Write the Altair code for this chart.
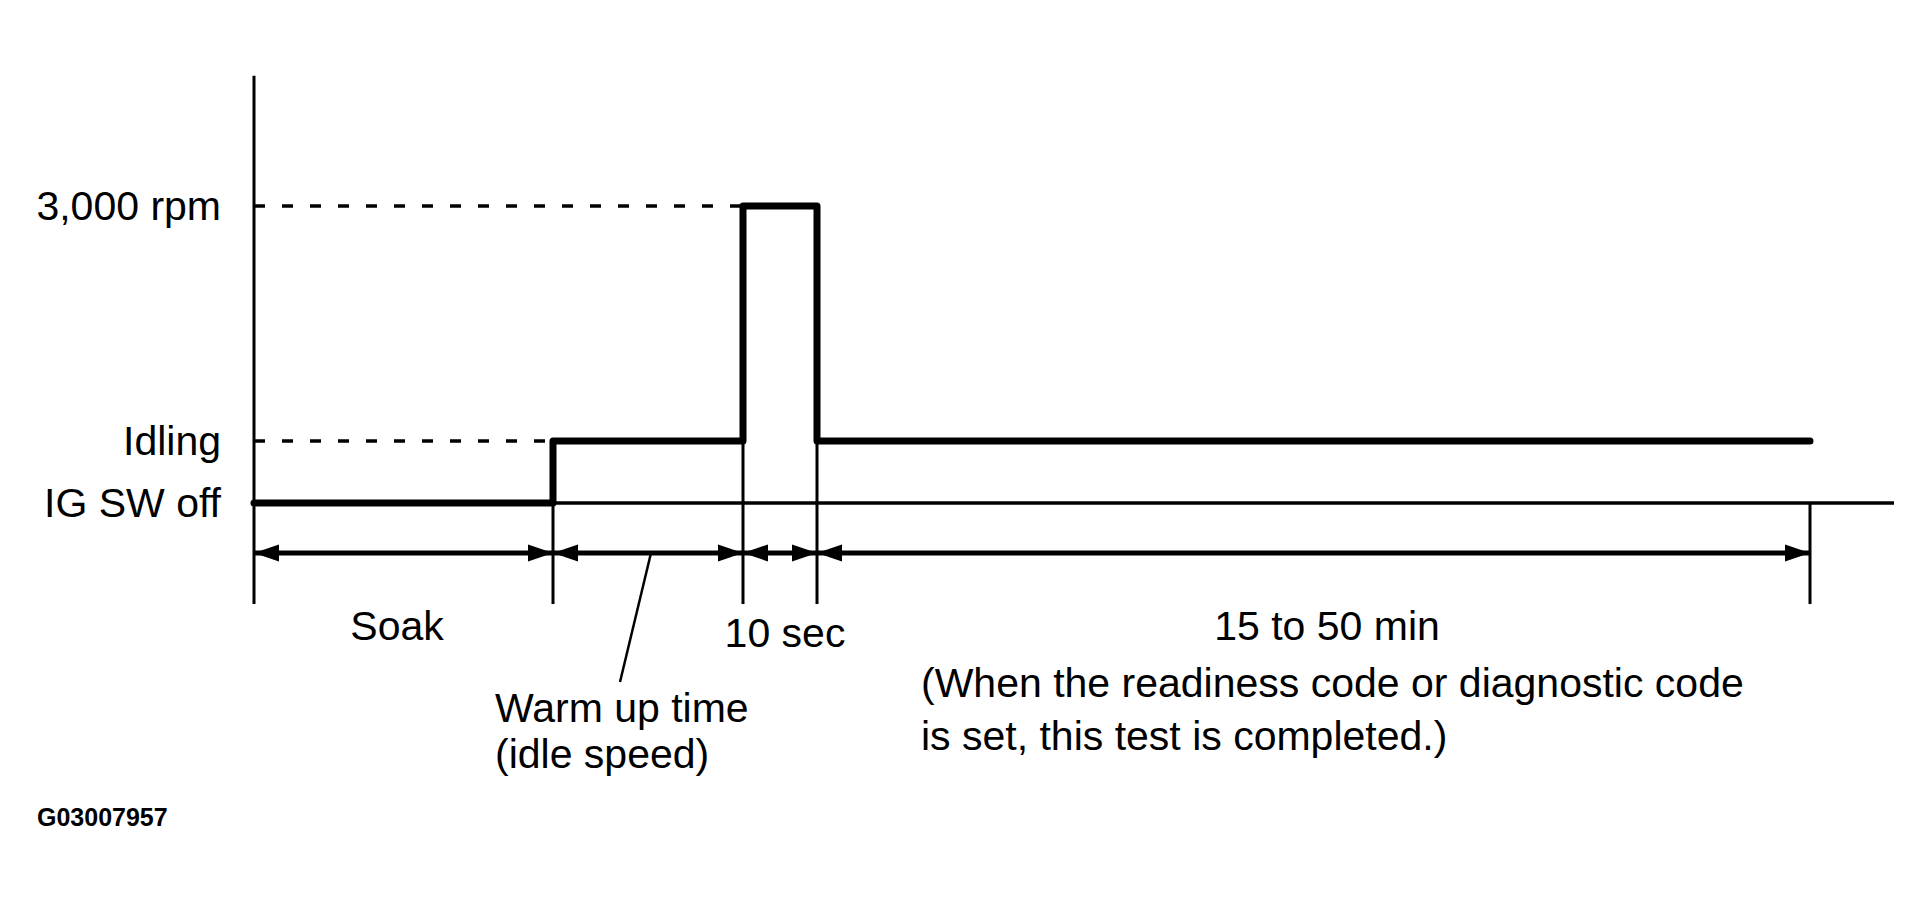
import altair as alt
import pandas as pd

# ---- data (schematic time units / schematic level units) ----
level_names = ["IG SW off", "Idling", "3,000 rpm"]
level_values = [0.0, 1.0, 4.79]

# phase boundaries: start, end of soak, end of warm-up, end of 10 sec, end of test
phase_t = [0.0, 2.99, 4.89, 5.63, 15.56]

# engine-speed trace (step signal)
signal_t = [0.0, 2.99, 2.99, 4.89, 4.89, 5.63, 5.63, 15.56]
signal_v = [0.0, 0.0, 1.0, 1.0, 4.79, 4.79, 1.0, 1.0]

# frame
axis_top = 6.89
tick_bottom = -1.63
baseline_end = 16.40
arrow_row = -0.806
# top of each boundary marker line (level where it starts)
tick_top = [0.0, 0.0, 1.0, 1.0, 0.0]

# annotation texts
phase_labels = ["Soak", "10 sec", "15 to 50 min"]
phase_label_t = [1.43, 5.31, 10.73]
phase_label_v = [-2.21, -2.32, -2.21]

note_lines = ["(When the readiness code or diagnostic code", "is set, this test is completed.)"]
note_t = 6.67
note_v = [-3.13, -3.99]

warm_lines = ["Warm up time", "(idle speed)"]
warm_t = 2.41
warm_v = [-3.53, -4.27]
leader_t = [3.97, 3.66]
leader_v = [-0.806, -2.887]

fig_code = "G03007957"
fig_code_t = -2.17
fig_code_v = -5.21

# ---- scales ----
XS = alt.Scale(domain=[-2.46, 16.70], nice=False, zero=False)
YS = alt.Scale(domain=[-6.339, 7.984], nice=False, zero=False)
FONT = "Liberation Sans, Arial, Helvetica, sans-serif"
BLACK = "#000000"


def X(f="t"):
    return alt.X(f"{f}:Q", scale=XS, axis=None)


def Y(f="v"):
    return alt.Y(f"{f}:Q", scale=YS, axis=None)


# ---- frame rules ----
frame = pd.DataFrame([
    # vertical axis
    {"t": 0.0, "t2": 0.0, "v": axis_top, "v2": tick_bottom, "w": 3.0},
    # horizontal baseline
    {"t": 0.0, "t2": baseline_end, "v": 0.0, "v2": 0.0, "w": 3.5},
    # arrow row
    {"t": phase_t[0], "t2": phase_t[-1], "v": arrow_row, "v2": arrow_row, "w": 5.0},
] + [
    {"t": phase_t[i], "t2": phase_t[i], "v": tick_top[i], "v2": tick_bottom, "w": 3.0}
    for i in range(1, len(phase_t))
])

frame_layer = alt.Chart(frame).mark_rule(color=BLACK).encode(
    x=X("t"), x2="t2:Q", y=Y("v"), y2="v2:Q",
    strokeWidth=alt.StrokeWidth("w:Q", scale=None),
)

# dashed guide lines
dash_df = pd.DataFrame({
    "t": [0.0, 0.0],
    "t2": [phase_t[2], phase_t[1]],
    "v": [level_values[2], level_values[1]],
})
dash_layer = alt.Chart(dash_df).mark_rule(
    color=BLACK, strokeWidth=3.5, strokeDash=[11, 17]
).encode(x=X("t"), x2="t2:Q", y=Y("v"))

# leader line
leader_df = pd.DataFrame({"t": [leader_t[0]], "t2": [leader_t[1]],
                          "v": [leader_v[0]], "v2": [leader_v[1]]})
leader_layer = alt.Chart(leader_df).mark_rule(color=BLACK, strokeWidth=2.5).encode(
    x=X("t"), x2="t2:Q", y=Y("v"), y2="v2:Q")

# signal trace
sig_df = pd.DataFrame({"t": signal_t, "v": signal_v, "o": list(range(len(signal_t)))})
sig_layer = alt.Chart(sig_df).mark_line(
    color=BLACK, strokeWidth=7, strokeJoin="round", strokeCap="round"
).encode(x=X("t"), y=Y("v"), order="o:Q")

# arrowheads
right_df = pd.DataFrame({"t": phase_t[1:], "v": [arrow_row] * (len(phase_t) - 1)})
left_df = pd.DataFrame({"t": phase_t[:-1], "v": [arrow_row] * (len(phase_t) - 1)})
right_arrows = alt.Chart(right_df).mark_point(
    shape="M0,0L-1,-0.34L-1,0.34Z", filled=True, size=2500, color=BLACK, opacity=1
).encode(x=X("t"), y=Y("v"))
left_arrows = alt.Chart(left_df).mark_point(
    shape="M0,0L1,-0.34L1,0.34Z", filled=True, size=2500, color=BLACK, opacity=1
).encode(x=X("t"), y=Y("v"))

# level labels (left of axis)
lvl_df = pd.DataFrame({"label": level_names, "v": level_values, "t": [0.0] * 3})
lvl_layer = alt.Chart(lvl_df).mark_text(
    align="right", baseline="middle", dx=-33, dy=2, fontSize=41, font=FONT, color=BLACK
).encode(x=X("t"), y=Y("v"), text="label:N")

# phase labels (centered)
ph_df = pd.DataFrame({"label": phase_labels, "t": phase_label_t, "v": phase_label_v})
ph_layer = alt.Chart(ph_df).mark_text(
    align="center", baseline="alphabetic", fontSize=41, font=FONT, color=BLACK
).encode(x=X("t"), y=Y("v"), text="label:N")

# left-aligned notes
notes_df = pd.DataFrame({
    "label": note_lines + warm_lines,
    "t": [note_t] * 2 + [warm_t] * 2,
    "v": note_v + warm_v,
})
notes_layer = alt.Chart(notes_df).mark_text(
    align="left", baseline="alphabetic", fontSize=41, font=FONT, color=BLACK
).encode(x=X("t"), y=Y("v"), text="label:N")

# figure code
code_df = pd.DataFrame({"label": [fig_code], "t": [fig_code_t], "v": [fig_code_v]})
code_layer = alt.Chart(code_df).mark_text(
    align="left", baseline="alphabetic", fontSize=25, fontWeight="bold", font=FONT, color=BLACK
).encode(x=X("t"), y=Y("v"), text="label:N")

chart = alt.layer(
    frame_layer, dash_layer, leader_layer, sig_layer, right_arrows, left_arrows,
    lvl_layer, ph_layer, notes_layer, code_layer,
).properties(
    width=1916, height=888, padding=0, background="white"
).configure_view(stroke=None)

chart.save("out.html", embed_options={"renderer": "svg", "actions": False})
